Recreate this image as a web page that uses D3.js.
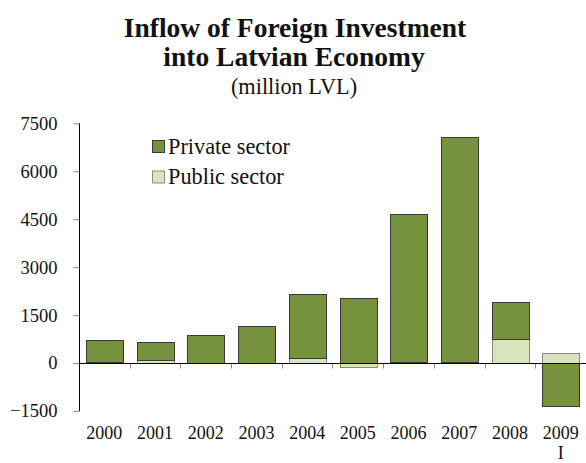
<!DOCTYPE html>
<html>
<head>
<meta charset="utf-8">
<script src="https://cdn.jsdelivr.net/npm/d3@7/dist/d3.min.js"></script>
<style>
  html, body { margin: 0; padding: 0; background: #fff; }
  svg { display: block; }
  text { font-family: "Liberation Serif", "DejaVu Serif", serif; fill: #111; }
</style>
</head>
<body>
<svg id="chart" width="586" height="463"></svg>
<script>
// Foreign investment inflow into the Latvian economy, million LVL
const years = ["2000", "2001", "2002", "2003", "2004", "2005", "2006", "2007", "2008", "2009 I"];
const privateSector = [700, 550, 870, 1160, 2000, 2040, 4640, 7035, 1155, -1350];
const publicSector = [10, 115, 5, 0, 145, -115, 20, 40, 770, 320];
const yTicks = [-1500, 0, 1500, 3000, 4500, 6000, 7500];
const seriesNames = ["Private sector", "Public sector"];

const colors = { "Private sector": "#76923c", "Public sector": "#d7e4bd" };
const strokes = { "Private sector": "#3a3a3a", "Public sector": "#8a8a8a" };

const rows = years.map((y, i) => ({
  year: y,
  "Public sector": publicSector[i],
  "Private sector": privateSector[i]
}));

const svg = d3.select("#chart");

// Title block
const title = svg.append("g").attr("text-anchor", "middle");
title.append("text").attr("x", 295).attr("y", 37)
  .style("font-size", "27.5px").style("font-weight", "bold")
  .text("Inflow of Foreign Investment");
title.append("text").attr("x", 294).attr("y", 66)
  .style("font-size", "27.5px").style("font-weight", "bold")
  .text("into Latvian Economy");
title.append("text").attr("x", 294).attr("y", 94)
  .style("font-size", "22.3px")
  .text("(million LVL)");

const x = d3.scaleBand().domain(years).range([79, 586])
  .paddingInner(0.28).paddingOuter(0.14);
const y = d3.scaleLinear().domain([-1500, 7500]).range([411, 123.3]);

// Stack with public sector next to zero and private sector on top
const stack = d3.stack()
  .keys(["Public sector", "Private sector"])
  .offset(d3.stackOffsetDiverging);
const layers = stack(rows);

svg.append("g").selectAll("g")
  .data(layers)
  .join("g")
  .attr("fill", d => colors[d.key])
  .attr("stroke", d => strokes[d.key])
  .attr("stroke-width", 1)
  .selectAll("rect")
  .data(d => d)
  .join("rect")
  .attr("x", d => Math.round(x(d.data.year)) + 0.5)
  .attr("width", Math.round(x.bandwidth()))
  .attr("y", d => Math.round(y(Math.max(d[0], d[1]))) + 0.5)
  .attr("height", d => Math.round(Math.abs(y(d[0]) - y(d[1]))));

// Value axis
const yAxis = svg.append("g")
  .attr("transform", "translate(79.5,0)")
  .call(d3.axisLeft(y).tickValues(yTicks).tickSize(6).tickPadding(16)
    .tickFormat(d3.format("d")));
yAxis.select(".domain").attr("stroke", "#000").attr("d", `M0,${y(7500)}V${y(-1500)}`);
yAxis.selectAll(".tick line").attr("stroke", "#888");
yAxis.selectAll(".tick text").style("font-size", "18.5px")
  .style("font-family", "'Liberation Serif', serif").attr("fill", "#111");

// Zero baseline with category separators
const zeroY = Math.round(y(0)) + 0.5;
const base = svg.append("g");
base.selectAll("line.sep")
  .data(years.slice(1))
  .join("line")
  .attr("class", "sep")
  .attr("x1", d => Math.round(x(d) - x.step() * x.paddingInner() / 2) + 0.5)
  .attr("x2", d => Math.round(x(d) - x.step() * x.paddingInner() / 2) + 0.5)
  .attr("y1", zeroY).attr("y2", zeroY + 5)
  .attr("stroke", "#888");
base.append("line")
  .attr("x1", 79).attr("x2", 586)
  .attr("y1", zeroY).attr("y2", zeroY)
  .attr("stroke", "#000");

// Category labels along the bottom (second line for the quarter)
const xl = svg.append("g").attr("text-anchor", "middle")
  .selectAll("text")
  .data(years)
  .join("text")
  .attr("x", d => x(d) + x.bandwidth() / 2)
  .attr("y", 439)
  .style("font-size", "18px");
xl.each(function(d) {
  const parts = d.split(" ");
  const t = d3.select(this);
  parts.forEach((p, i) => {
    t.append("tspan").attr("x", x(d) + x.bandwidth() / 2)
      .attr("dy", i === 0 ? 0 : 20).text(p);
  });
});

// Legend
const legend = svg.append("g").attr("transform", "translate(152,140)");
seriesNames.forEach((name, i) => {
  const g = legend.append("g").attr("transform", `translate(0,${i * 30.5})`);
  g.append("rect").attr("x", 0.5).attr("y", 0.5).attr("width", 12).attr("height", 12)
    .attr("fill", colors[name]).attr("stroke", strokes[name]);
  g.append("text").attr("x", 16).attr("y", 13.5).style("font-size", "22.3px").text(name);
});
</script>
</body>
</html>
